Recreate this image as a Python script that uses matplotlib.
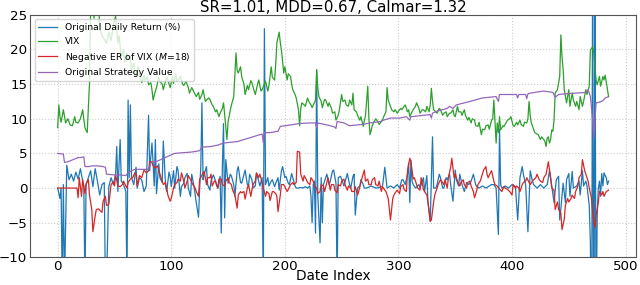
import matplotlib
matplotlib.use('Agg')
import matplotlib.pyplot as plt

## data (index, value)
ret_pts = [(0, 0.0), (2, -1.5), (3, 0.0), (4, -14), (5, 0.5), (6, -14), (8, 3.3), (10, 1.2), (12, 2.0), (14, 1.0),
           (16, 2.3), (18, 1.3), (20, 2.8), (22, 1.0), (23, 0.3), (24, -14), (25, 0.5), (27, 1.5), (29, 2.5), (31, 0.2),
           (33, 2.8), (35, 1.0), (37, -1.0), (39, 0.5), (41, 0.8), (42, -14), (43, -14), (45, 0.2), (47, 1.5), (49, 0.5),
           (51, 2.0), (52, 6.0), (53, -0.5), (55, 7.0), (56, 1.0), (58, 0.5), (60, -0.5), (61, -14), (62, 12.7), (63, 1.5),
           (64, 12.0), (65, 1.5), (67, 0.5), (69, 3.0), (70, 0.0), (72, 1.5), (74, 1.2), (76, -0.5), (78, 0.3), (80, 10.5),
           (81, 2.5), (83, 6.5), (84, 3.6), (85, 0.3), (86, 7.0), (87, -0.8), (89, 3.5), (90, 1.5), (92, 0.8), (93, 6.8),
           (95, 0.3), (96, -0.5), (98, 2.3), (99, 1.7), (100, 0.2), (102, 2.5), (103, 0.0), (105, 3.1), (106, 2.5),
           (108, -1.2), (109, 0.2), (111, 0.7), (112, 1.5), (114, 2.1), (115, 0.0), (117, -1.2), (118, 2.0), (120, 0.3),
           (122, -2.1), (124, -4.2), (125, 0.0), (126, 3.0), (127, 12.3), (128, 1.2), (129, 2.0), (131, 3.1), (132, 0.5),
           (134, -0.3), (135, 1.0), (137, 1.9), (138, 1.5), (140, 0.3), (141, 0.0), (143, 1.7), (144, -6.5), (145, 3.0),
           (146, 9.3), (147, -4.3), (148, 4.1), (150, 0.7), (152, 2.0), (153, 1.7), (155, 0.5), (156, -1.2), (158, 2.5),
           (159, 3.1), (161, 0.8), (162, 0.7), (164, 2.0), (165, 2.6), (167, 0.5), (168, 0.3), (169, 2.0), (171, 1.2),
           (172, 0.0), (174, 0.3), (175, 2.1), (177, 1.0), (178, 0.3), (180, 1.5), (181, -14), (182, 23.0), (183, 0.5),
           (185, 1.5), (186, 0.3), (188, 1.0), (189, 1.2), (191, 0.2), (192, 0.7), (194, 1.5), (195, -0.3), (197, 2.5),
           (198, 3.1), (200, 1.5), (201, 1.7), (203, 0.7), (204, 0.5), (206, 2.1), (207, 1.5), (209, 0.3), (210, 0.0),
           (212, 0.0), (214, 0.1), (216, 0.0), (218, 0.2), (220, 0.0), (222, 0.3), (223, -1.2), (224, -5.0), (225, 0.5),
           (226, 1.0), (227, -6.5), (228, 17.0), (229, -1.0), (231, -7.9), (232, 1.5), (233, -5.0), (234, 0.5), (236, 1.5),
           (237, 2.0), (239, 0.5), (240, 1.0), (242, 2.5), (243, 2.6), (245, 0.7), (246, -14), (247, 1.5), (249, 1.7),
           (251, 0.8), (252, 0.3), (254, 1.5), (255, 2.1), (257, 0.5), (258, 0.0), (260, 1.7), (261, 2.0), (262, -3.9),
           (264, 0.0), (266, 0.3), (267, 1.2), (269, 0.5), (270, 0.0), (272, 0.0), (276, 0.3), (280, 0.0), (284, 0.1),
           (286, 0.3), (288, 3.0), (290, 0.0), (293, 0.3), (296, 0.0), (299, 0.5), (301, 0.0), (303, 1.2), (304, 1.2),
           (306, 0.5), (308, 2.0), (309, 3.6), (310, -2.1), (311, 4.0), (312, 1.0), (313, 0.5), (315, 0.0), (318, 0.5),
           (319, 0.0), (322, 1.5), (323, -0.5), (325, 1.8), (326, -2.0), (328, -4.8), (330, 7.4), (331, 0.0), (333, 0.0),
           (334, 0.5), (336, 2.0), (337, 1.5), (339, 0.0), (340, 0.0), (342, 1.5), (343, 1.2), (345, 2.0), (346, 0.5),
           (348, -1.9), (350, 2.6), (351, 1.2), (353, 0.3), (354, 2.0), (356, 0.5), (358, -0.5), (360, 0.8), (362, 0.5),
           (364, 1.0), (366, 2.0), (368, 0.5), (369, 0.2), (371, 0.0), (374, 0.3), (377, 0.0), (380, 0.3), (382, 0.5),
           (384, 0.5), (386, 0.0), (388, -6.7), (389, 8.5), (390, 0.5), (391, 0.0), (394, 0.3), (397, 0.0), (400, 0.5),
           (403, 0.2), (405, -4.6), (407, 1.5), (409, 3.1), (410, 2.0), (412, 0.5), (414, -6.3), (416, 2.5), (418, 1.0),
           (419, 0.5), (422, 0.0), (425, 0.5), (428, 0.0), (431, 0.5), (433, 2.5), (435, 0.3), (437, -2.1), (439, 1.2),
           (441, 1.7), (442, -4.6), (443, -3.0), (445, 0.7), (447, -2.1), (448, 1.2), (450, 2.1), (451, -1.2), (453, 2.4),
           (454, 0.0), (457, 0.3), (459, 1.0), (460, -1.0), (462, 2.5), (463, 0.3), (465, 1.0), (466, 0.3), (468, -2.5),
           (469, -7.9), (470, -30), (471, 35), (472, -35), (473, 30), (474, -20), (475, -4.0), (476, 0.0), (477, 1.0),
           (478, -1.2), (479, 2.1), (480, 0.3), (481, 2.2), (482, 1.8), (483, 1.5), (484, 0.5), (485, 1.0)]

vix_pts = [(0, 8.7), (1, 12.0), (2, 10.3), (3, 9.5), (5, 11.3), (7, 9.4), (9, 10.0), (11, 9.1), (13, 9.0), (15, 10.3),
           (16, 9.5), (18, 9.4), (20, 10.0), (21, 10.6), (22, 11.3), (24, 8.7), (26, 8.0), (28, 15.1), (29, 26), (31, 27),
           (32, 24.5), (33, 27), (35, 25.5), (36, 27), (37, 23), (39, 22.0), (41, 21.5), (43, 20.9), (45, 22.5), (47, 21.3),
           (49, 23.5), (51, 24.8), (53, 20.9), (54, 22.0), (56, 19.0), (58, 20.0), (59, 18.1), (61, 19.5), (62, 18.5),
           (64, 19.0), (65, 17.1), (67, 18.0), (68, 16.1), (70, 16.8), (71, 17.5), (73, 16.0), (74, 15.2), (76, 16.3),
           (77, 15.6), (79, 16.0), (80, 14.9), (82, 15.2), (83, 14.2), (84, 12.7), (86, 14.0), (87, 14.5), (89, 16.0),
           (90, 15.4), (92, 15.0), (93, 14.2), (95, 15.5), (96, 16.1), (98, 15.0), (99, 14.5), (101, 16.0), (102, 15.1),
           (104, 16.5), (105, 15.4), (107, 15.8), (108, 16.1), (110, 15.0), (111, 14.8), (113, 15.4), (115, 14.5),
           (116, 13.7), (118, 14.5), (119, 14.2), (121, 13.5), (122, 13.2), (124, 13.8), (125, 12.8), (127, 13.5),
           (128, 14.2), (130, 12.5), (131, 12.7), (133, 13.0), (134, 12.8), (136, 12.0), (137, 11.8), (139, 11.0),
           (140, 11.3), (142, 10.3), (143, 10.8), (145, 11.5), (146, 12.3), (147, 10.6), (149, 7.0), (150, 9.5),
           (152, 11.3), (153, 12.0), (155, 13.2), (157, 19.5), (158, 17.0), (159, 16.6), (161, 17.5), (162, 16.1),
           (164, 15.0), (165, 13.5), (167, 14.8), (168, 14.2), (170, 15.5), (171, 15.2), (173, 14.0), (174, 13.5),
           (176, 15.0), (177, 15.6), (179, 14.0), (180, 14.2), (182, 15.0), (183, 15.4), (185, 14.0), (186, 14.8),
           (188, 17.5), (189, 16.0), (191, 15.6), (192, 18.0), (193, 21.0), (195, 22.5), (196, 21.0), (197, 19.9),
           (199, 16.6), (200, 17.5), (202, 15.6), (203, 16.5), (205, 16.1), (206, 15.0), (207, 14.2), (209, 13.5),
           (210, 13.0), (212, 11.3), (213, 9.0), (214, 11.5), (215, 12.3), (217, 12.0), (218, 11.8), (220, 13.0),
           (221, 12.5), (223, 12.0), (224, 11.6), (226, 12.3), (227, 12.7), (228, 17.1), (229, 14.5), (230, 13.2),
           (232, 12.5), (233, 11.6), (235, 12.8), (236, 12.7), (238, 11.8), (239, 12.3), (241, 11.5), (242, 10.8),
           (244, 11.0), (245, 9.8), (247, 10.5), (248, 11.3), (250, 13.5), (251, 12.5), (253, 12.7), (254, 12.0),
           (256, 11.8), (257, 12.7), (259, 12.0), (260, 13.7), (261, 11.3), (263, 11.0), (264, 10.5), (266, 9.8),
           (267, 10.3), (269, 8.9), (271, 10.5), (273, 14.7), (274, 10.0), (275, 7.7), (277, 9.0), (278, 9.4),
           (280, 10.0), (281, 9.8), (283, 9.2), (284, 9.4), (286, 9.8), (287, 10.3), (289, 11.0), (290, 14.5),
           (291, 12.7), (293, 11.8), (294, 11.3), (296, 11.0), (297, 11.3), (299, 10.8), (300, 11.1), (302, 11.5),
           (303, 11.3), (305, 11.8), (306, 12.0), (308, 11.0), (309, 11.3), (310, 10.3), (312, 11.0), (313, 11.3),
           (315, 11.8), (316, 12.3), (318, 11.5), (319, 10.8), (321, 11.3), (322, 11.3), (324, 11.0), (325, 11.8),
           (327, 11.0), (328, 12.0), (329, 14.4), (330, 12.5), (331, 11.3), (333, 11.0), (334, 10.8), (336, 11.5),
           (337, 11.3), (339, 10.5), (340, 10.8), (342, 11.0), (343, 10.3), (345, 10.8), (346, 10.8), (348, 11.3),
           (349, 10.5), (350, 10.3), (352, 11.8), (353, 11.0), (355, 11.0), (356, 10.5), (358, 11.3), (359, 10.5),
           (361, 9.8), (362, 10.2), (364, 9.4), (365, 10.0), (367, 9.8), (368, 9.0), (370, 8.9), (371, 9.5), (373, 7.7),
           (374, 8.5), (376, 8.4), (377, 9.0), (379, 9.1), (380, 8.5), (382, 9.8), (383, 10.0), (384, 12.7), (385, 9.5),
           (386, 6.5), (387, 9.4), (388, 8.0), (389, 10.3), (390, 8.4), (392, 9.0), (393, 8.9), (395, 9.5), (396, 9.8),
           (398, 10.0), (399, 10.3), (401, 9.0), (402, 8.9), (404, 9.5), (405, 9.1), (407, 9.8), (408, 9.2), (410, 8.9),
           (411, 9.5), (413, 9.4), (414, 10.0), (415, 12.5), (416, 10.5), (417, 9.4), (419, 8.5), (420, 8.0), (422, 7.8),
           (423, 7.7), (425, 7.0), (426, 7.4), (428, 7.0), (429, 6.7), (430, 6.0), (431, 7.2), (432, 7.4), (433, 6.5),
           (434, 7.0), (435, 8.4), (436, 8.2), (437, 9.8), (438, 13.7), (440, 14.2), (442, 16.1), (443, 22.1),
           (444, 19.0), (445, 17.1), (446, 14.2), (448, 12.3), (450, 14.2), (451, 11.8), (453, 13.7), (454, 12.7),
           (456, 11.8), (457, 12.5), (459, 11.3), (460, 13.2), (462, 11.8), (463, 12.5), (465, 14.2), (466, 13.5),
           (468, 14.7), (469, 19.9), (471, 20.4), (472, 19.5), (474, 15.6), (475, 14.9), (477, 16.1), (478, 14.7),
           (480, 16.1), (481, 15.6), (482, 16.3), (484, 14.2), (485, 13.2)]

ner_pts = [(0, 0.0), (17, 0.0), (18, -1.4), (19, 1.5), (21, -1.2), (22, 1.2), (24, -0.8), (25, 0.6), (27, 1.2),
           (28, -1.0), (30, -3.1), (31, -6.3), (33, -4.0), (34, -3.1), (36, -3.0), (37, -3.2), (39, -3.5), (40, -1.9),
           (42, -1.2), (43, -2.5), (45, -2.4), (46, -1.0), (47, 0.5), (49, 0.9), (50, 0.3), (51, 1.9), (53, 0.3),
           (55, 0.2), (57, 0.5), (58, 1.0), (60, 0.3), (61, 0.0), (62, 0.8), (64, 1.3), (66, 1.5), (68, 2.2), (69, 2.0),
           (70, 0.3), (72, 1.8), (74, 1.5), (76, 2.6), (78, 2.2), (80, 2.5), (81, 3.8), (83, 3.8), (84, 3.2), (86, 2.9),
           (88, 3.2), (89, 2.5), (91, 1.5), (93, 0.5), (95, 0.8), (97, -1.0), (99, -1.9), (100, -1.5), (102, 0.0),
           (103, 0.5), (105, 0.8), (106, 1.3), (108, 1.0), (109, 2.2), (111, 1.0), (112, 0.0), (114, 1.0), (115, 1.8),
           (117, 1.2), (119, 0.5), (121, 0.0), (122, -0.5), (124, -1.2), (125, 1.3), (126, 1.5), (128, 2.2), (129, 2.4),
           (131, 0.5), (132, 1.5), (134, 1.5), (135, 2.0), (136, 0.3), (138, 1.0), (139, 1.0), (141, 0.0), (142, 1.3),
           (144, 1.3), (145, 0.5), (147, 0.3), (148, 1.0), (150, 1.5), (151, 0.8), (153, 0.5), (154, -0.3), (156, -1.0),
           (158, -2.9), (159, -1.0), (161, -0.5), (162, -0.7), (164, -0.5), (165, -1.6), (167, 0.0), (168, 0.5),
           (170, -1.2), (171, -0.3), (172, 0.5), (174, 1.0), (175, 2.2), (177, 1.5), (178, 2.0), (180, 0.8), (181, 0.0),
           (183, -1.2), (184, -0.5), (186, -0.8), (187, -1.8), (189, -0.5), (190, -0.5), (192, -0.8), (193, -1.2),
           (194, -3.4), (196, -1.0), (197, 0.5), (199, 0.5), (200, 0.2), (202, -0.5), (203, -0.2), (205, 0.5),
           (207, 0.8), (208, 0.5), (210, 0.8), (211, 5.3), (213, 5.2), (214, 2.0), (216, 1.0), (217, 1.8), (219, 1.2),
           (220, 0.8), (222, 0.5), (223, 1.5), (225, 1.0), (226, 0.3), (228, 0.0), (229, -0.8), (231, -0.5), (232, 0.5),
           (234, 0.3), (235, -0.5), (237, 0.8), (238, 1.5), (240, -0.3), (241, 0.5), (243, 0.5), (244, -0.3),
           (246, -0.7), (247, 0.5), (249, 0.3), (250, 1.0), (252, 1.3), (253, 0.5), (255, -0.3), (256, 0.3), (258, 0.0),
           (259, -0.5), (261, -0.5), (262, 0.2), (264, -1.0), (265, -0.5), (267, 0.8), (268, 1.5), (270, 2.6),
           (271, 1.0), (273, 1.3), (274, 0.5), (276, 0.5), (277, 1.2), (279, 1.5), (280, 0.5), (282, 0.3), (283, 1.0),
           (285, -0.5), (286, 0.2), (288, -0.3), (289, -0.5), (291, -1.5), (293, -4.6), (295, -1.5), (296, -1.0),
           (298, -0.5), (299, -0.3), (301, -0.8), (302, 0.2), (304, 0.5), (305, -0.2), (307, -0.5), (308, 2.5),
           (310, 4.3), (311, 3.8), (313, 1.3), (314, 1.5), (316, 0.5), (317, 0.0), (319, -0.3), (320, 1.5), (322, -0.2),
           (323, -0.5), (325, -1.0), (326, -2.0), (328, -4.8), (329, -4.6), (331, -2.0), (332, -1.0), (334, 0.0),
           (335, 0.5), (337, 1.2), (338, 1.0), (340, 0.5), (341, 1.2), (343, 0.0), (344, 1.5), (346, 3.0), (347, 4.3),
           (349, 1.5), (350, 2.0), (352, 1.0), (354, 0.3), (355, 0.8), (357, 1.2), (358, 0.5), (360, 0.0), (361, 0.8),
           (363, 1.0), (364, 0.3), (366, -0.5), (367, -1.4), (369, -0.3), (370, 0.5), (372, 1.0), (373, 1.5),
           (375, 2.6), (377, 3.1), (378, 2.0), (379, 1.5), (381, 2.2), (382, 2.5), (384, 1.0), (385, 0.5), (387, 0.3),
           (388, 0.0), (390, -0.3), (391, -0.5), (393, 0.2), (394, 0.0), (396, -0.2), (398, -0.5), (400, -1.0),
           (401, 0.5), (403, 0.0), (404, 0.3), (406, 0.0), (407, -0.5), (409, 0.5), (410, 0.8), (412, 1.0), (413, 1.5),
           (415, 0.8), (416, 0.5), (418, 1.0), (419, 1.2), (421, 1.5), (422, 2.0), (424, 1.2), (425, 1.0), (427, 0.8),
           (428, 1.5), (430, 2.0), (432, 3.8), (434, 1.5), (435, 0.0), (437, -0.3), (438, -3.1), (440, -2.0),
           (441, -3.1), (443, -3.6), (444, -6.0), (446, -4.5), (447, -2.5), (449, -1.5), (450, -2.0), (452, -1.5),
           (453, -1.0), (455, -1.5), (456, -0.5), (458, 0.3), (459, 1.5), (461, 2.0), (462, 4.1), (464, 2.5),
           (465, 2.0), (467, 1.0), (468, 0.0), (470, -1.5), (471, -3.5), (473, -5.7), (474, -4.0), (476, -2.0),
           (477, -0.5), (479, -1.0), (480, -0.5), (481, -1.2), (483, -0.5), (485, -0.3)]

val_pts = [(0, 5.0), (5, 4.9), (6, 3.7), (9, 3.8), (12, 4.0), (15, 4.2), (18, 4.4), (20, 4.4), (23, 4.5), (24, 3.1),
           (28, 3.1), (30, 3.2), (35, 3.2), (40, 3.1), (42, 3.0), (43, 2.0), (50, 1.9), (55, 1.9), (60, 1.8), (62, 2.2),
           (65, 2.5), (68, 2.7), (75, 2.7), (80, 2.7), (82, 3.6), (84, 3.8), (88, 3.9), (92, 4.2), (96, 4.5), (100, 4.8),
           (103, 5.0), (110, 5.1), (118, 5.2), (122, 5.3), (125, 5.4), (127, 5.9), (135, 6.0), (141, 6.2), (146, 6.5),
           (158, 6.7), (164, 7.0), (170, 7.3), (178, 7.7), (180, 7.8), (181, 6.6), (182, 8.0), (187, 8.0), (194, 8.2),
           (196, 8.9), (205, 9.1), (212, 9.3), (222, 9.4), (227, 9.4), (228, 8.7), (229, 9.4), (240, 9.0), (244, 8.8),
           (245, 8.6), (246, 9.6), (252, 9.4), (257, 9.0), (263, 9.1), (269, 9.2), (275, 9.4), (284, 9.6), (287, 9.8),
           (293, 10.1), (301, 10.1), (307, 10.3), (310, 9.8), (311, 10.3), (328, 10.6), (329, 10.1), (330, 10.8),
           (334, 11.1), (343, 11.5), (345, 11.8), (348, 11.5), (351, 12.0), (363, 12.5), (374, 13.0), (386, 13.2),
           (388, 12.5), (389, 13.5), (404, 13.5), (405, 13.0), (406, 13.5), (412, 13.5), (413, 12.9), (414, 13.6),
           (416, 13.7), (428, 14.0), (436, 13.8), (438, 13.1), (441, 13.5), (447, 13.6), (465, 13.8), (467, 14.2),
           (469, 13.2), (471, 9.8), (472, 7.2), (474, 12.3), (477, 12.4), (480, 12.6), (482, 13.0), (485, 13.2)]

labels = ['Original Daily Return (%)', 'VIX', r'Negative ER of VIX ($M$=18)', 'Original Strategy Value']
colors = ['#1f77b4', '#2ca02c', '#d62728', '#9467bd']
title = 'SR=1.01, MDD=0.67, Calmar=1.32'

## plot
fig, ax = plt.subplots(figsize=(6.4, 2.85), dpi=100)
fig.subplots_adjust(left=0.047, right=0.994, top=0.948, bottom=0.097)

for pts, lab, col in zip([ret_pts, vix_pts, ner_pts, val_pts], labels, colors):
    xs, ys = zip(*pts)
    ax.plot(xs, ys, color=col, lw=0.9, label=lab)

ax.set_ylim(-10, 25)
ax.set_xlim(-24.3, 509.3)
ax.set_xticks([0, 100, 200, 300, 400, 500])
ax.set_yticks([-10, -5, 0, 5, 10, 15, 20, 25])
ax.grid(True, color='#cccccc', linestyle=':', linewidth=0.8)
ax.set_axisbelow(True)
for s in ax.spines.values():
    s.set_color('#555555')
    s.set_linewidth(0.8)
ax.tick_params(length=0, labelsize=9.6, pad=2)
ax.set_xlabel('Date Index', fontsize=9.8, labelpad=-3)
ax.set_title(title, fontsize=10.8, pad=2)
ax.legend(loc='upper left', fontsize=6.7, handlelength=2.0, borderaxespad=0.5, framealpha=0.8)

plt.savefig('out.png')
